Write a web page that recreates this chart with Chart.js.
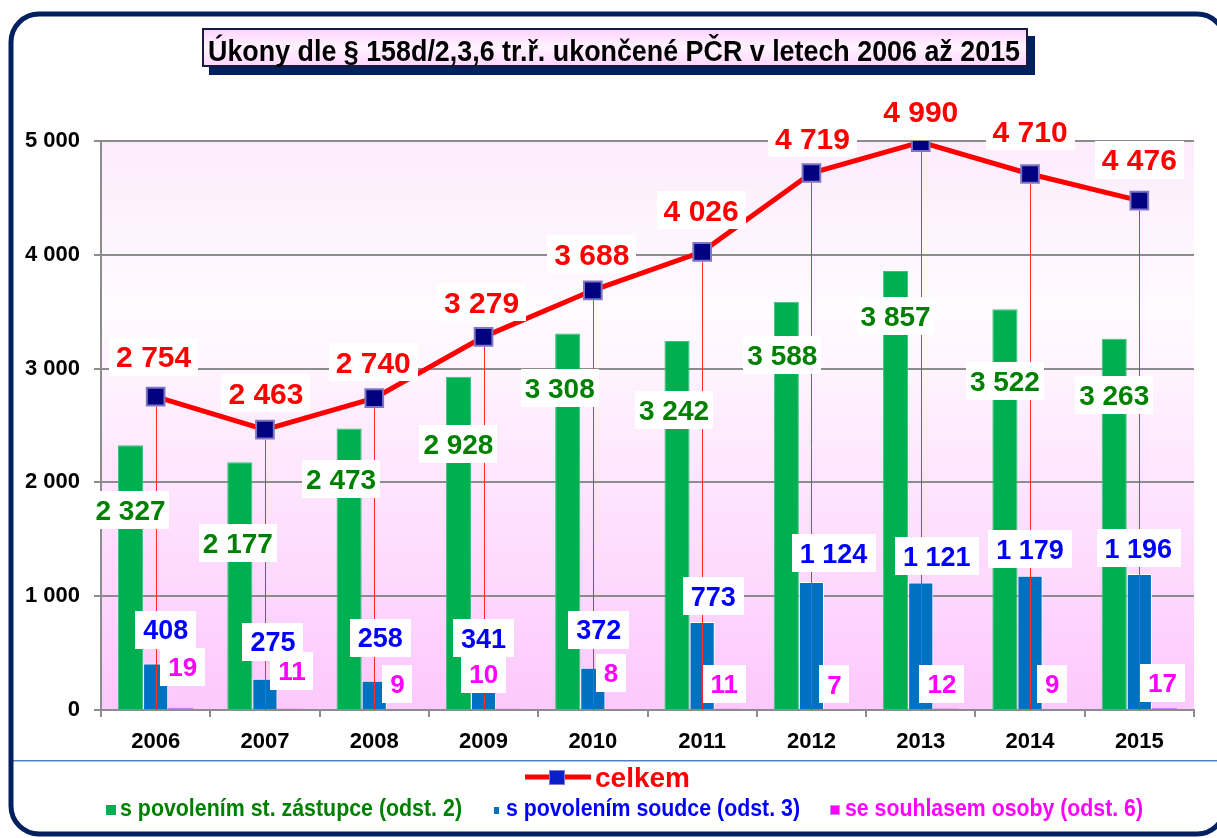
<!DOCTYPE html>
<html>
<head>
<meta charset="utf-8">
<title>Úkony dle § 158d/2,3,6 tr.ř. ukončené PČR v letech 2006 až 2015</title>
<script src="https://cdn.jsdelivr.net/npm/chart.js@4.4.0/dist/chart.umd.min.js"></script>
<style>
  html, body { margin: 0; padding: 0; background: #fff; overflow: hidden; }
  canvas { display: block; }
</style>
</head>
<body>
<canvas id="chart" width="1217" height="838"></canvas>
<script>
// ---- data ----
const years = ['2006', '2007', '2008', '2009', '2010', '2011', '2012', '2013', '2014', '2015'];
const celkem = [2754, 2463, 2740, 3279, 3688, 4026, 4719, 4990, 4710, 4476];
const zastupce = [2327, 2177, 2473, 2928, 3308, 3242, 3588, 3857, 3522, 3263];
const soudce = [408, 275, 258, 341, 372, 773, 1124, 1121, 1179, 1196];
const osoby = [19, 11, 9, 10, 8, 11, 7, 12, 9, 17];
const yTicks = [0, 1000, 2000, 3000, 4000, 5000];

const titleText = 'Úkony dle § 158d/2,3,6 tr.ř. ukončené PČR v letech 2006 až 2015';
const seriesNames = ['s povolením st. zástupce (odst. 2)', 's povolením soudce (odst. 3)', 'se souhlasem osoby (odst. 6)', 'celkem'];

// ---- label placement (pixel nudges relative to the mark) ----
const celkemLabelDx = [-2, 1, -1, -2, -1, -1, 1, 0, 0, 0];
const celkemLabelDy = [-40, -37, -36, -35, -36, -42, -35, -31, -43, -41];
const zastupceLabelDx = [0, -2, -8, 0, -8, -3, -4, 0, 0, 0];
const zastupceLabelDy = [65, 81, 50, 67, 54, 69, 53, 45, 72, 56];
const soudceLabelDx = [10, 8, 6, 0, 6, 11, 22, 16, 0, -1];
const soudceLabelDy = [-34, -37, -43, -33, -38, -26, -29, -26, -27, -26];
const osobyLabelDx = [2, 2, -2, -25, -7, -3, -2, -4, -3, -2];
const osobyLabelDy = [-41, -38, -25, -35, -36, -25, -25, -25, -25, -25];

const FONT = "'Liberation Sans', Arial, Helvetica, sans-serif";
const NARROW = "'Liberation Sans Narrow', 'Arial Narrow', 'Liberation Sans', Arial, sans-serif";
const fmt = v => String(v).replace(/\B(?=(\d{3})+(?!\d))/g, ' ');

// draws bold text, squeezed/stretched horizontally to a given width
function fitText(ctx, text, x, y, size, color, width, family) {
  ctx.save();
  ctx.font = 'bold ' + size + 'px ' + (family || FONT);
  const w = ctx.measureText(text).width;
  const sx = width ? width / w : 1;
  ctx.translate(x, y);
  ctx.scale(sx, 1);
  ctx.fillStyle = color;
  ctx.textAlign = 'left';
  ctx.textBaseline = 'alphabetic';
  ctx.fillText(text, 0, 0);
  ctx.restore();
}

function valueLabel(ctx, text, cx, cy, size, color, padX) {
  ctx.save();
  ctx.font = 'bold ' + size + 'px ' + FONT;
  const w = ctx.measureText(text).width;
  ctx.fillStyle = '#ffffff';
  ctx.fillRect(Math.round(cx - w / 2 - padX), Math.round(cy - 19), Math.round(w + 2 * padX), 38);
  ctx.fillStyle = color;
  ctx.textAlign = 'center';
  ctx.textBaseline = 'alphabetic';
  ctx.fillText(text, cx, cy + size * 0.36);
  ctx.restore();
}

const decor = {
  id: 'decor',
  beforeDraw(chart) {
    const { ctx, chartArea: a } = chart;
    ctx.save();
    ctx.fillStyle = '#ffffff';
    ctx.fillRect(0, 0, chart.width, chart.height);
    const g = ctx.createLinearGradient(0, a.top, 0, a.bottom);
    g.addColorStop(0, '#fcecfc');
    g.addColorStop(0.3, '#fffbff');
    g.addColorStop(1, '#fdc8fd');
    ctx.fillStyle = g;
    ctx.fillRect(a.left, a.top, a.right - a.left, a.bottom - a.top);
    ctx.restore();
  },
  afterDatasetsDraw(chart) {
    const { ctx, chartArea: a } = chart;
    const linePts = chart.getDatasetMeta(3).data;
    // drop lines from each total point to the category axis
    ctx.save();
    ctx.strokeStyle = '#ff2a2a';
    ctx.lineWidth = 1;
    linePts.forEach(p => {
      const x = Math.round(p.x) + 0.5;
      ctx.beginPath();
      ctx.moveTo(x, p.y + 10);
      ctx.lineTo(x, a.bottom);
      ctx.stroke();
    });
    ctx.restore();

    const green = chart.getDatasetMeta(0).data;
    const blue = chart.getDatasetMeta(1).data;
    const pink = chart.getDatasetMeta(2).data;
    green.forEach((b, i) => valueLabel(ctx, fmt(zastupce[i]), b.x + zastupceLabelDx[i], b.y + zastupceLabelDy[i], 28, '#008000', 4));
    blue.forEach((b, i) => valueLabel(ctx, fmt(soudce[i]), b.x + soudceLabelDx[i], b.y + soudceLabelDy[i], 27, '#0000ff', 8));
    pink.forEach((b, i) => valueLabel(ctx, fmt(osoby[i]), b.x + osobyLabelDx[i], b.y + osobyLabelDy[i], 26, '#ff00ff', 8));
    linePts.forEach((p, i) => valueLabel(ctx, fmt(celkem[i]), p.x + celkemLabelDx[i], p.y + celkemLabelDy[i], 30, '#ff0000', 7));
  },
  afterDraw(chart) {
    const ctx = chart.ctx;
    ctx.save();

    // title box with drop shadow
    ctx.fillStyle = '#002060';
    ctx.fillRect(209, 36, 826, 39);
    const tg = ctx.createLinearGradient(0, 28, 0, 67);
    tg.addColorStop(0, '#ffd2ff');
    tg.addColorStop(0.5, '#fff3ff');
    tg.addColorStop(1, '#ffd2ff');
    ctx.fillStyle = tg;
    ctx.fillRect(202, 28, 826, 39);
    ctx.strokeStyle = '#1a1a3a';
    ctx.lineWidth = 2;
    ctx.strokeRect(203, 29, 824, 37);
    fitText(ctx, titleText, 208, 61, 29, '#000000', 812, NARROW);

    // separator under the axis
    ctx.fillStyle = '#4f7fc4';
    ctx.fillRect(13, 760, 1204, 1);
    ctx.fillStyle = '#a8c2e8';
    ctx.fillRect(13, 761, 1204, 1);

    // legend: total line
    ctx.strokeStyle = '#ff0000';
    ctx.lineWidth = 5;
    ctx.beginPath();
    ctx.moveTo(525, 777);
    ctx.lineTo(591, 777);
    ctx.stroke();
    ctx.fillStyle = '#0a1fc8';
    ctx.fillRect(549, 770, 16, 15);
    ctx.strokeStyle = '#7d7ad0';
    ctx.lineWidth = 1;
    ctx.strokeRect(549.5, 770.5, 15, 14);
    fitText(ctx, seriesNames[3], 595, 787, 27, '#ff0000', 95, NARROW);

    // legend: bar series
    ctx.fillStyle = '#00b050';
    ctx.fillRect(106, 805, 10, 10);
    fitText(ctx, seriesNames[0], 120, 816, 23, '#008000', 342, NARROW);
    ctx.fillStyle = '#0070c0';
    ctx.fillRect(494, 807, 5, 7);
    fitText(ctx, seriesNames[1], 506, 816, 23, '#0000ff', 294, NARROW);
    ctx.fillStyle = '#ff00ff';
    ctx.fillRect(830, 805, 10, 10);
    ctx.strokeStyle = '#c98af0';
    ctx.strokeRect(830.5, 805.5, 9, 9);
    fitText(ctx, seriesNames[2], 845, 816, 23, '#ff00ff', 298, NARROW);

    // rounded outer frame (its right side runs just past the canvas edge)
    ctx.strokeStyle = '#002060';
    ctx.lineWidth = 5;
    ctx.beginPath();
    ctx.roundRect(11, 14, 1214, 820, 28);
    ctx.stroke();
    ctx.restore();
  }
};

const axisGray = '#8c8c8c';

new Chart(document.getElementById('chart'), {
  type: 'bar',
  data: {
    labels: years,
    datasets: [
      { label: seriesNames[0], data: zastupce, backgroundColor: '#00b050', borderColor: '#3cc07a', borderWidth: 1, order: 1 },
      { label: seriesNames[1], data: soudce, backgroundColor: '#0070c0', borderColor: '#ffffff', borderWidth: 1, order: 1 },
      { label: seriesNames[2], data: osoby, backgroundColor: '#c97cf4', borderColor: '#c97cf4', borderWidth: 0, order: 1 },
      {
        type: 'line', label: seriesNames[3], data: celkem, order: 0,
        borderColor: '#ff0000', borderWidth: 5, tension: 0,
        pointStyle: 'rect', pointRadius: 12.5, pointHoverRadius: 12.5,
        pointBackgroundColor: '#000080', pointBorderColor: '#7f76c2', pointBorderWidth: 2
      }
    ]
  },
  options: {
    responsive: false,
    animation: false,
    events: [],
    layout: { padding: { left: 10, right: 23, top: 141, bottom: 88 } },
    datasets: { bar: { categoryPercentage: 0.69, barPercentage: 1.0 } },
    plugins: { legend: { display: false }, tooltip: { enabled: false }, title: { display: false } },
    scales: {
      x: {
        offset: true,
        grid: { offset: true, drawOnChartArea: false, drawTicks: true, tickLength: 7, color: axisGray, lineWidth: 2 },
        border: { color: axisGray, width: 2 },
        ticks: { color: '#000', padding: 12, font: { family: FONT, size: 22, weight: 'bold' } },
        afterFit(s) { s.height = 40; }
      },
      y: {
        min: 0, max: 5000,
        afterBuildTicks(s) { s.ticks = yTicks.map(v => ({ value: v })); },
        grid: { color: axisGray, lineWidth: 2, tickLength: 7, drawTicks: true },
        border: { color: axisGray, width: 2 },
        ticks: { color: '#000', padding: 14, font: { family: FONT, size: 22, weight: 'bold' }, callback: v => fmt(v) },
        afterFit(s) { s.width = 91; }
      }
    }
  },
  plugins: [decor]
});
</script>
</body>
</html>
